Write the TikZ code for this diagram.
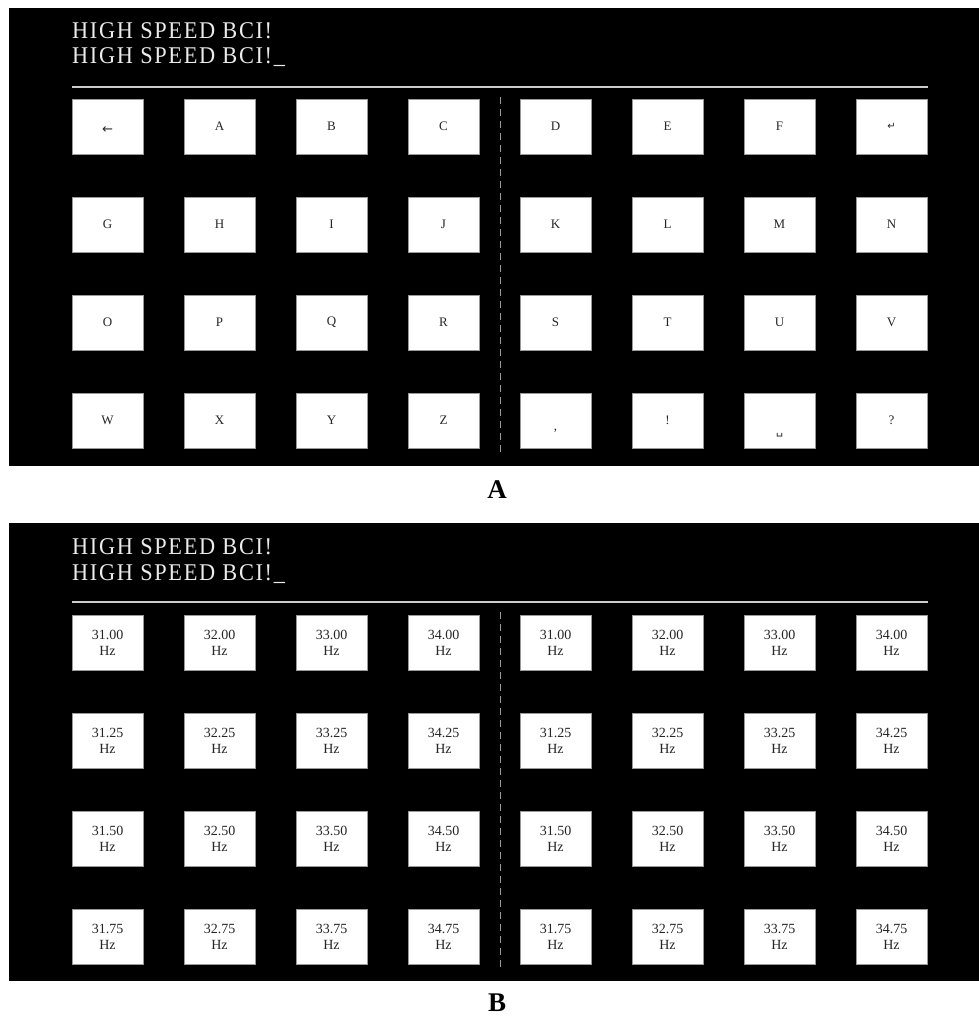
\documentclass[tikz,border=0pt]{standalone}
\usepackage{fontspec}
\setmainfont{Liberation Serif}
\newfontfamily\symfont{DejaVu Sans}
\newfontfamily\headfont[LetterSpace=7,FakeStretch=0.93]{Liberation Serif}
\begin{document}
\begin{tikzpicture}[x=1pt,y=-1pt,
  panel/.style={fill=black},
  keybox/.style={draw=black!40,line width=0.8pt,fill=white,minimum width=71pt,minimum height=55pt,inner sep=0pt,text=black!85,font=\fontsize{13}{15}\selectfont},
  hzbox/.style={keybox,align=center,font=\fontsize{14}{16}\selectfont},
  headtext/.style={anchor=base west,inner sep=0pt,text=white!92!black,font=\headfont\fontsize{24}{28}\selectfont},
  rule/.style={draw=white!80!black,line width=1.2pt},
  divider/.style={draw=white!60!black,line width=1pt,dash pattern=on 7pt off 5pt},
  panellabel/.style={font=\bfseries\fontsize{27}{30}\selectfont,inner sep=0pt}]
\useasboundingbox (0,0) rectangle (979,1017);
% ---------- Panel A ----------
\fill[panel] (9,8) rectangle (979,466);
\node[headtext] (a-t1) at (72,38) {HIGH SPEED BCI!};
\node[headtext] (a-t2) at (72,63) {HIGH SPEED BCI!\_};
\coordinate (a-l1) at (72,87); \coordinate (a-l2) at (928,87);
\draw[rule] (a-l1) -- (a-l2);
\coordinate (a-d1) at (500,97); \coordinate (a-d2) at (500,452);
\draw[divider] (a-d1) -- (a-d2);
\foreach \t [count=\i from 0] in {{\raisebox{-7pt}[0pt][0pt]{\symfont\fontsize{13}{15}\selectfont ←}},A,B,C,D,E,F,{\symfont\fontsize{10}{12}\selectfont ↵}}
  \node[keybox] (a-0-\i) at ({107.5+112*\i},126.5) {\t};
\foreach \t [count=\i from 0] in {G,H,I,J,K,L,M,N}
  \node[keybox] (a-1-\i) at ({107.5+112*\i},224.5) {\t};
\foreach \t [count=\i from 0] in {O,P,Q,R,S,T,U,V}
  \node[keybox] (a-2-\i) at ({107.5+112*\i},322.5) {\t};
\foreach \t [count=\i from 0] in {W,X,Y,Z,{\raisebox{-10pt}[0pt][0pt]{,}},!,{\raisebox{-14pt}[0pt][0pt]{\symfont\fontsize{11}{12}\selectfont ␣}},?}
  \node[keybox] (a-3-\i) at ({107.5+112*\i},420.5) {\t};
\node[panellabel] (labA) at (497,490) {A};
% ---------- Panel B ----------
\fill[panel] (9,523) rectangle (979,981);
\node[headtext] (b-t1) at (72,554) {HIGH SPEED BCI!};
\node[headtext] (b-t2) at (72,580) {HIGH SPEED BCI!\_};
\coordinate (b-l1) at (72,602); \coordinate (b-l2) at (928,602);
\draw[rule] (b-l1) -- (b-l2);
\coordinate (b-d1) at (500,612); \coordinate (b-d2) at (500,967);
\draw[divider] (b-d1) -- (b-d2);
\foreach \m [count=\j from 0] in {00,25,50,75}
  \foreach \f [count=\i from 0] in {31,32,33,34,31,32,33,34}
    \node[hzbox] (b-\j-\i) at ({107.5+112*\i},{642.5+98*\j}) {\f.\m\\Hz};
\node[panellabel] (labB) at (497,1003) {B};
\end{tikzpicture}
\end{document}
